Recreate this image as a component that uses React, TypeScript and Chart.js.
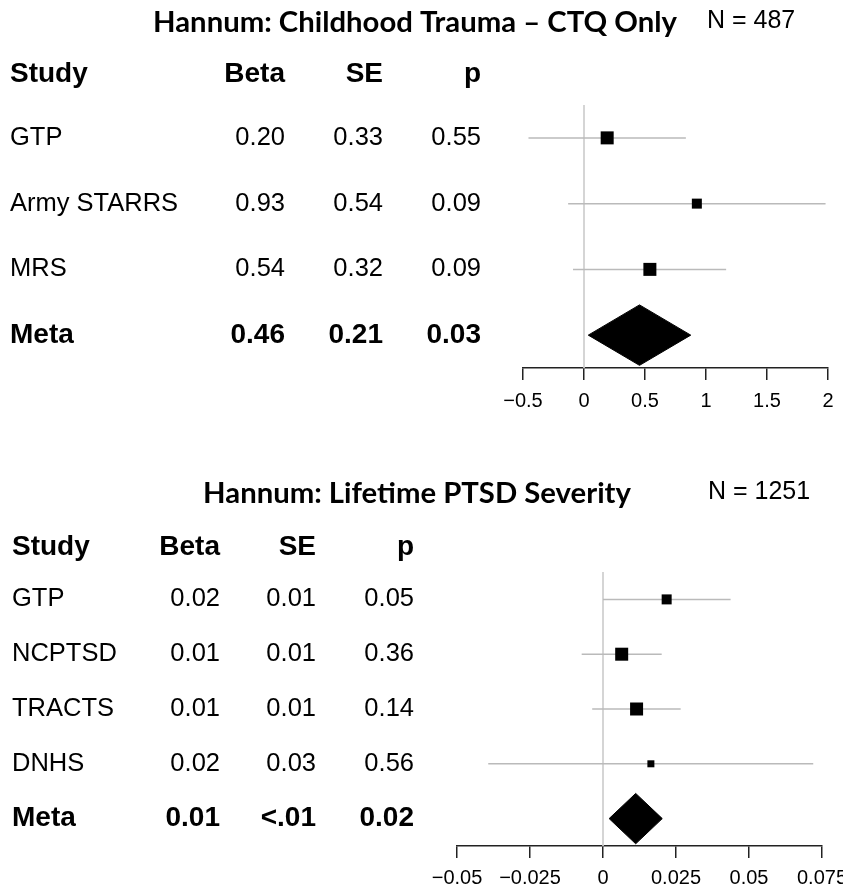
import React, { useEffect, useRef } from "react";
import { Chart, registerables } from "chart.js";

Chart.register(...registerables);

// ---------- data: top panel ----------
const TOP_TITLE = "Hannum: Childhood Trauma – CTQ Only";
const TOP_N = "N = 487";
const TOP_STUDIES = ["GTP", "Army STARRS", "MRS", "Meta"];
const TOP_BETA_TXT = ["0.20", "0.93", "0.54", "0.46"];
const TOP_SE_TXT = ["0.33", "0.54", "0.32", "0.21"];
const TOP_P_TXT = ["0.55", "0.09", "0.09", "0.03"];
const TOP_EST = [0.19, 0.925, 0.54, 0.455];
const TOP_LO = [-0.455, -0.13, -0.09, 0.035];
const TOP_HI = [0.835, 1.98, 1.165, 0.875];
const TOP_TICKS = ["−0.5", "0", "0.5", "1", "1.5", "2"];

// ---------- data: bottom panel ----------
const BOT_TITLE = "Hannum: Lifetime PTSD Severity";
const BOT_N = "N = 1251";
const BOT_STUDIES = ["GTP", "NCPTSD", "TRACTS", "DNHS", "Meta"];
const BOT_BETA_TXT = ["0.02", "0.01", "0.01", "0.02", "0.01"];
const BOT_SE_TXT = ["0.01", "0.01", "0.01", "0.03", "<.01"];
const BOT_P_TXT = ["0.05", "0.36", "0.14", "0.56", "0.02"];
const BOT_EST = [0.0218, 0.0064, 0.0115, 0.0164, 0.0112];
const BOT_LO = [0.0, -0.0073, -0.0037, -0.0393, 0.0021];
const BOT_HI = [0.0437, 0.0201, 0.0266, 0.072, 0.0203];
const BOT_TICKS = ["−0.05", "−0.025", "0", "0.025", "0.05", "0.075"];

const HEADERS = ["Study", "Beta", "SE", "p"];

// ---------- style ----------
const TEXT_FONT = '"Liberation Sans", Arial, sans-serif';
const TITLE_FONT = 'Lato, "Open Sans", sans-serif';
const TITLE_REF_WIDTH = 524;
const CI_COLOR = "#bababa";
const ZERO_COLOR = "#cfcfcf";
const AXIS_COLOR = "#222";
const DIAMOND_HALF = 0.46;
const HEADER_ROW = -0.96;

const TOP_BOX = [13, 10, 13];
const BOT_BOX = [10, 13, 13, 7];

const PANELS = [
  {
    key: "top",
    title: TOP_TITLE,
    n: TOP_N,
    studies: TOP_STUDIES,
    beta: TOP_BETA_TXT,
    se: TOP_SE_TXT,
    p: TOP_P_TXT,
    est: TOP_EST,
    lo: TOP_LO,
    hi: TOP_HI,
    ticks: TOP_TICKS,
    box: TOP_BOX,
    xMin: -0.5,
    xMax: 2,
    step: 0.5,
    height: 440,
    padLeft: 523,
    padRight: 15,
    padTop: 105,
    axisH: 72,
    tickPad: 9,
    tickSize: 20,
    cols: [10, 285, 383, 481],
    titleX: 415,
    titleY: 23,
    nX: 707,
    nY: 21,
  },
  {
    key: "bottom",
    title: BOT_TITLE,
    n: BOT_N,
    studies: BOT_STUDIES,
    beta: BOT_BETA_TXT,
    se: BOT_SE_TXT,
    p: BOT_P_TXT,
    est: BOT_EST,
    lo: BOT_LO,
    hi: BOT_HI,
    ticks: BOT_TICKS,
    box: BOT_BOX,
    xMin: -0.05,
    xMax: 0.075,
    step: 0.025,
    height: 448,
    padLeft: 457,
    padRight: 21,
    padTop: 132,
    axisH: 42,
    tickPad: 8,
    tickSize: 20,
    cols: [12, 220, 316, 414],
    titleX: 417,
    titleY: 54,
    nX: 708,
    nY: 52,
  },
];

type Panel = (typeof PANELS)[number];

function buildConfig(panel: Panel): any {
  const meta = panel.studies.length - 1;
  const yMin = -0.5;
  const yMax = meta + 0.5;
  const datasets: any[] = [];

  datasets.push({
    type: "scatter",
    data: panel.est.slice(0, meta).map((x, i) => ({ x, y: i })),
    pointStyle: "rect",
    pointRadius: panel.box.map((s) => s / Math.SQRT2),
    pointHoverRadius: panel.box.map((s) => s / Math.SQRT2),
    backgroundColor: "#000",
    borderColor: "#000",
    borderWidth: 0,
    order: 0,
  });

  datasets.push({
    type: "line",
    data: [
      { x: panel.lo[meta], y: meta },
      { x: panel.est[meta], y: meta - DIAMOND_HALF },
      { x: panel.hi[meta], y: meta },
      { x: panel.est[meta], y: meta + DIAMOND_HALF },
      { x: panel.lo[meta], y: meta },
    ],
    fill: "shape",
    backgroundColor: "#000",
    borderColor: "#000",
    borderWidth: 1,
    pointRadius: 0,
    tension: 0,
    order: 0,
  });

  for (let i = 0; i < meta; i++) {
    datasets.push({
      type: "line",
      data: [
        { x: panel.lo[i], y: i },
        { x: panel.hi[i], y: i },
      ],
      borderColor: CI_COLOR,
      borderWidth: 1.5,
      pointRadius: 0,
      fill: false,
      order: 1,
    });
  }

  datasets.push({
    type: "line",
    data: [
      { x: 0, y: yMin },
      { x: 0, y: yMax },
    ],
    borderColor: ZERO_COLOR,
    borderWidth: 1,
    pointRadius: 0,
    fill: false,
    order: 2,
  });

  const textPlugin = {
    id: "forestText" + panel.key,
    afterDraw(chart: any) {
      const ctx = chart.ctx as CanvasRenderingContext2D;
      const ys = chart.scales.y;
      ctx.save();
      ctx.fillStyle = "#000";
      ctx.textBaseline = "middle";

      ctx.font = `bold 100px ${TITLE_FONT}`;
      const w = ctx.measureText(TOP_TITLE).width;
      const ts = (100 * TITLE_REF_WIDTH) / w;
      ctx.font = `bold ${ts}px ${TITLE_FONT}`;
      ctx.textAlign = "center";
      ctx.fillText(panel.title, panel.titleX, panel.titleY);

      ctx.font = `25px ${TEXT_FONT}`;
      ctx.textAlign = "left";
      ctx.fillText(panel.n, panel.nX, panel.nY);

      const hy = ys.getPixelForValue(HEADER_ROW);
      ctx.font = `bold 28px ${TEXT_FONT}`;
      ctx.textAlign = "left";
      ctx.fillText(HEADERS[0], panel.cols[0], hy);
      ctx.textAlign = "right";
      for (let k = 1; k < 4; k++) ctx.fillText(HEADERS[k], panel.cols[k], hy);

      for (let i = 0; i <= meta; i++) {
        const y = ys.getPixelForValue(i);
        ctx.font = i === meta ? `bold 28px ${TEXT_FONT}` : `25.5px ${TEXT_FONT}`;
        ctx.textAlign = "left";
        ctx.fillText(panel.studies[i], panel.cols[0], y);
        ctx.textAlign = "right";
        ctx.fillText(panel.beta[i], panel.cols[1], y);
        ctx.fillText(panel.se[i], panel.cols[2], y);
        ctx.fillText(panel.p[i], panel.cols[3], y);
      }
      ctx.restore();
    },
  };

  return {
    type: "scatter",
    data: { datasets },
    plugins: [textPlugin],
    options: {
      animation: false,
      responsive: false,
      events: [],
      layout: {
        padding: { left: panel.padLeft, right: panel.padRight, top: panel.padTop, bottom: 0 },
      },
      plugins: {
        legend: { display: false },
        tooltip: { enabled: false },
        title: { display: false },
      },
      scales: {
        x: {
          type: "linear",
          min: panel.xMin,
          max: panel.xMax,
          ticks: {
            stepSize: panel.step,
            autoSkip: false,
            maxRotation: 0,
            padding: panel.tickPad,
            color: "#000",
            font: { family: TEXT_FONT, size: panel.tickSize },
            callback: (v: number, i: number) => panel.ticks[i] ?? String(v),
          },
          grid: {
            display: true,
            drawOnChartArea: false,
            drawTicks: true,
            tickLength: 12,
            color: AXIS_COLOR,
            lineWidth: 1.5,
          },
          border: { display: true, color: AXIS_COLOR, width: 1.5 },
          afterFit: (scale: any) => {
            scale.paddingLeft = 0;
            scale.paddingRight = 0;
            scale.height = panel.axisH;
          },
        },
        y: {
          type: "linear",
          min: yMin,
          max: yMax,
          reverse: true,
          display: false,
        },
      },
    },
  };
}

function ForestPanel({ panel }: { panel: Panel }) {
  const ref = useRef<HTMLCanvasElement>(null);
  useEffect(() => {
    if (!ref.current) return;
    const chart = new Chart(ref.current, buildConfig(panel));
    return () => chart.destroy();
  }, [panel]);
  return (
    <canvas
      ref={ref}
      width={843}
      height={panel.height}
      style={{ display: "block", width: 843, height: panel.height }}
    />
  );
}

export default function App() {
  return (
    <div style={{ position: "absolute", left: 0, top: 0, width: 843, height: 888, background: "#fff" }}>
      {PANELS.map((p) => (
        <ForestPanel key={p.key} panel={p} />
      ))}
    </div>
  );
}
